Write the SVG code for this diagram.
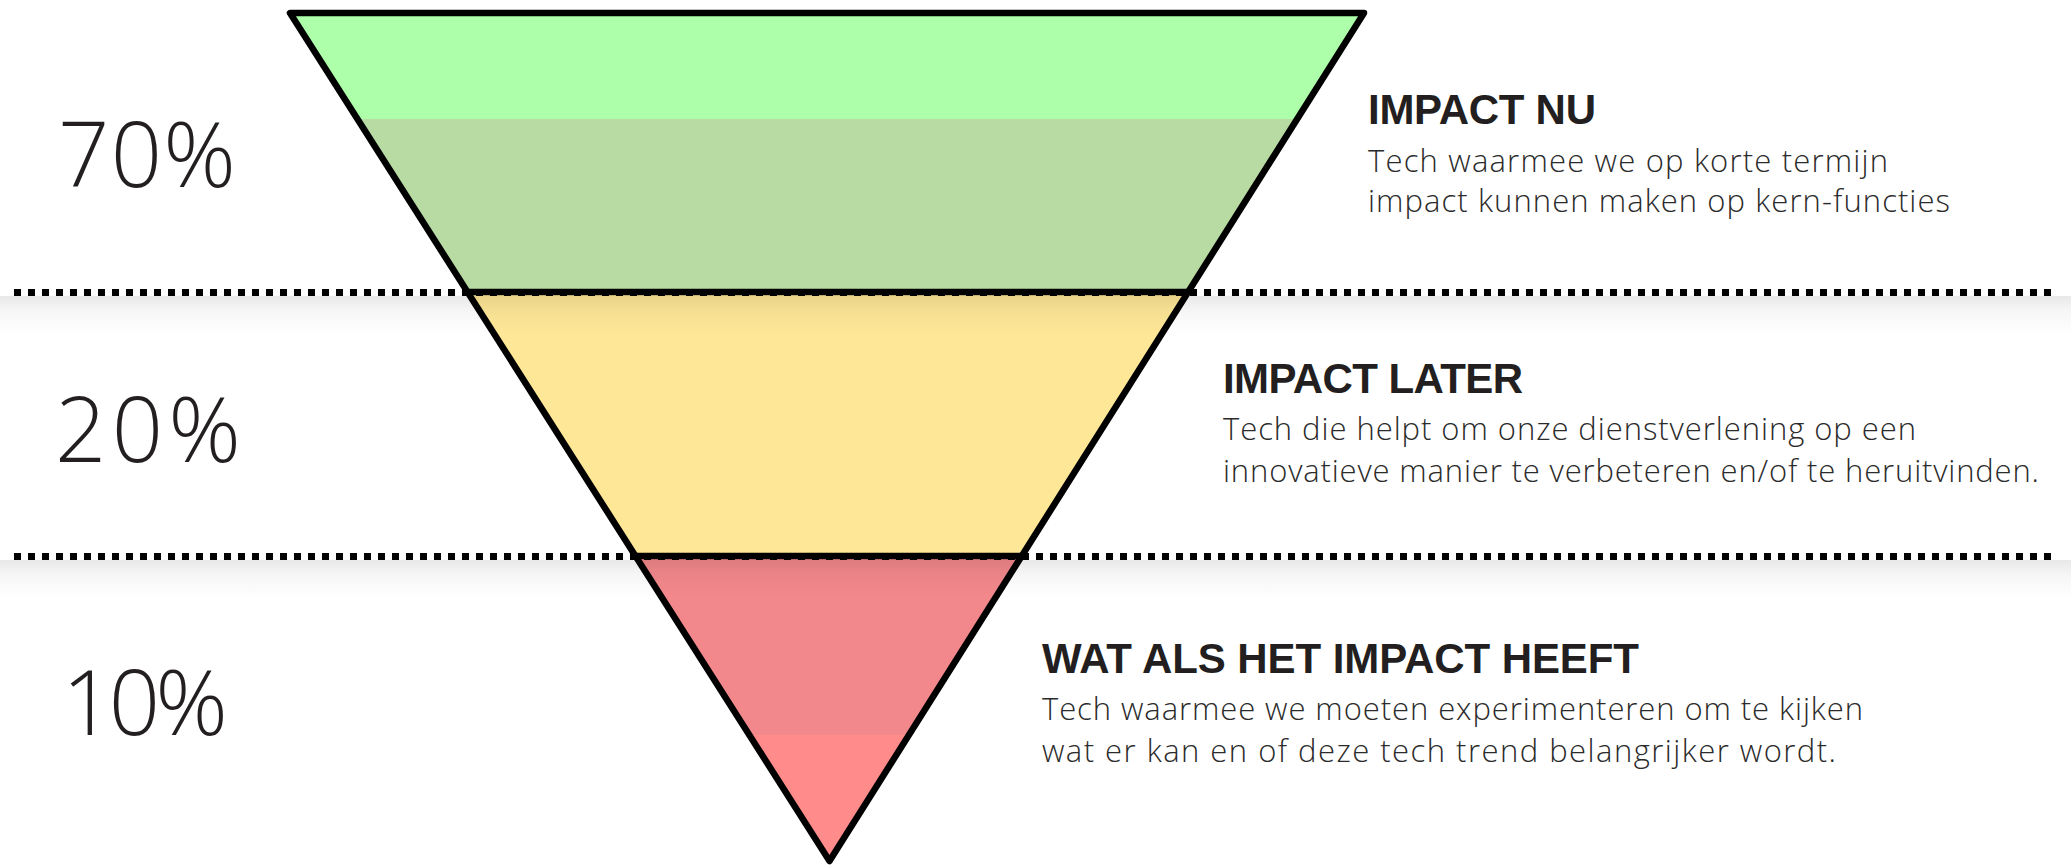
<svg xmlns="http://www.w3.org/2000/svg" width="2071" height="866" viewBox="0 0 2071 866">
  <defs>
    <linearGradient id="shadow" x1="0" y1="0" x2="0" y2="1">
      <stop offset="0" stop-color="#000" stop-opacity="0.09"/>
      <stop offset="0.35" stop-color="#000" stop-opacity="0.04"/>
      <stop offset="1" stop-color="#000" stop-opacity="0"/>
    </linearGradient>
    <style>
      .pct { font-family: "Open Sans", "Liberation Sans", sans-serif; font-weight: 300; font-size: 90px; fill: #231f20; }
      .head { font-family: "Liberation Sans", Arial, sans-serif; font-weight: 700; font-size: 42px; fill: #231f20; }
      .body { font-family: "Open Sans", "Liberation Sans", sans-serif; font-weight: 300; font-size: 31px; fill: #2b2b2b; }
      .dots { stroke: #000; stroke-width: 7; stroke-dasharray: 7 7; fill: none; }
      .edge { stroke: #000; stroke-width: 6.5; fill: none; stroke-linejoin: round; stroke-linecap: round; }
    </style>
  </defs>
  <rect x="0" y="0" width="2071" height="866" fill="#ffffff"/>

  <g id="tier-nu">
    <polygon points="290,13 1364,13 1297.2,119 357.4,119" fill="#adffa9"/>
    <polygon points="357.4,119 1297.2,119 1188.1,292 467.5,292" fill="#b8dba3"/>
    <text class="pct" x="58" y="187" textLength="178">70%</text>
    <text class="head" x="1368" y="124" textLength="228">IMPACT NU</text>
    <text class="body" x="1368" y="172" textLength="520">Tech waarmee we op korte termijn</text>
    <text class="body" x="1368" y="212" textLength="582">impact kunnen maken op kern-functies</text>
  </g>

  <g id="tier-later">
    <polygon points="467.5,292 1188.1,292 1021.7,556 635.5,556" fill="#fee797"/>
    <text class="pct" x="55" y="462" textLength="186">20%</text>
    <text class="head" x="1223" y="393" textLength="300">IMPACT LATER</text>
    <text class="body" x="1223" y="440" textLength="693">Tech die helpt om onze dienstverlening op een</text>
    <text class="body" x="1223" y="482" textLength="816">innovatieve manier te verbeteren en/of te heruitvinden.</text>
  </g>

  <g id="tier-wat-als">
    <polygon points="635.5,556 1021.7,556 908.9,735 749.3,735" fill="#f3888c"/>
    <polygon points="749.3,735 908.9,735 829.5,861" fill="#ff8b8b"/>
    <text class="pct" x="62" y="735" textLength="166">10%</text>
    <text class="head" x="1042" y="673" textLength="597">WAT ALS HET IMPACT HEEFT</text>
    <text class="body" x="1042" y="720" textLength="821">Tech waarmee we moeten experimenteren om te kijken</text>
    <text class="body" x="1042" y="762" textLength="794">wat er kan en of deze tech trend belangrijker wordt.</text>
  </g>

  <g id="separators">
    <rect x="0" y="296" width="2071" height="38" fill="url(#shadow)"/>
    <rect x="0" y="560" width="2071" height="38" fill="url(#shadow)"/>
    <line class="dots" x1="14" y1="292.5" x2="2057" y2="292.5"/>
    <line class="dots" x1="14" y1="556.5" x2="2057" y2="556.5"/>
  </g>

  <g id="funnel-outline">
    <path class="edge" d="M290,13 L1364,13 L829.5,861 Z"/>
    <line class="edge" x1="467.5" y1="292" x2="1188.1" y2="292"/>
    <line class="edge" x1="635.5" y1="556" x2="1021.7" y2="556"/>
  </g>
</svg>
